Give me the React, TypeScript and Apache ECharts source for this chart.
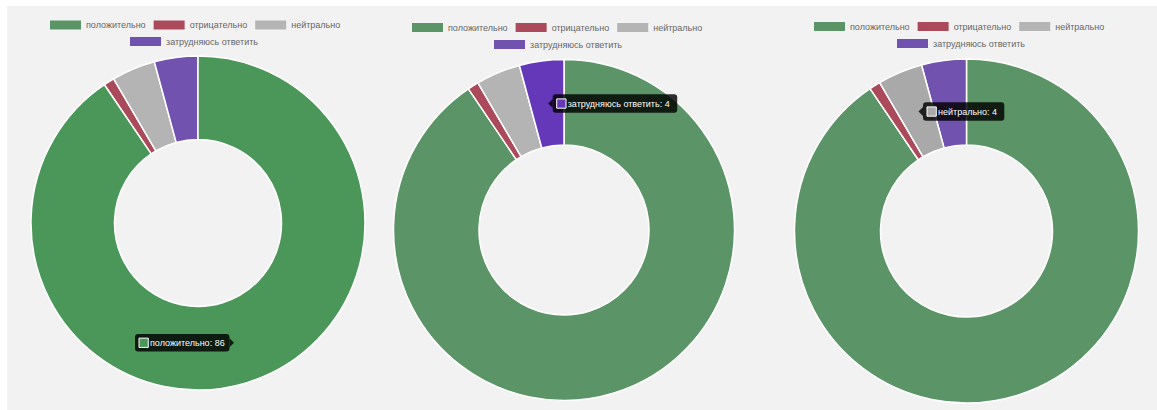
import React, { useEffect, useRef } from "react";
import * as echarts from "echarts";

const categories = ["положительно", "отрицательно", "нейтрально", "затрудняюсь ответить"];
const chart1Values = [86, 1, 4, 4];
const chart2Values = [86, 1, 4, 4];
const chart3Values = [86, 1, 4, 4];
const allValues = [chart1Values, chart2Values, chart3Values];
const activeIndex = [0, 3, 2]; // slice with tooltip in each chart

const colors = ["#5b9467", "#ab4a5b", "#b4b4b4", "#7152ae"];
const hoverColors = ["#4b975a", "#b03c50", "#a9a9a9", "#6538b9"];

// layout (container pixels)
const pies = [
  { center: [191, 217], radius: [83.5, 167] },
  { center: [557, 224], radius: [85, 170.5] },
  { center: [959.5, 225], radius: [86, 172] },
];
const legendRows = [
  { left1: 43, top1: 14.5, left2: 123, top2: 31 },
  { left1: 405, top1: 17, left2: 487, top2: 34 },
  { left1: 807, top1: 16, left2: 890, top2: 33 },
];
const tips = [
  { x: 128, y: 328, w: 94.5, h: 17.5, side: "right" },
  { x: 545.7, y: 88.3, w: 124.5, h: 18.4, side: "left" },
  { x: 916, y: 96.3, w: 81.3, h: 18.4, side: "left" },
];

const FONT = "'Liberation Sans', Arial, Helvetica, sans-serif";

export default function App() {
  const ref = useRef<HTMLDivElement>(null);
  useEffect(() => {
    if (!ref.current) return;
    const chart = echarts.init(ref.current, null, { renderer: "svg" });

    const legends: any[] = [];
    legendRows.forEach((r) => {
      const base = {
        orient: "horizontal",
        padding: 0,
        itemWidth: 31,
        itemHeight: 9,
        itemGap: 8,
        icon: "rect",
        selectedMode: false,
        itemStyle: { borderWidth: 0 },
        textStyle: { color: "#666", fontSize: 9, fontFamily: FONT, lineHeight: 9 },
      };
      legends.push({
        ...base,
        left: r.left1,
        top: r.top1,
        data: categories.slice(0, 3).map((n, i) => ({ name: n, itemStyle: { color: colors[i], borderWidth: 0 } })),
      });
      legends.push({
        ...base,
        left: r.left2,
        top: r.top2,
        data: categories.slice(3).map((n, i) => ({ name: n, itemStyle: { color: colors[i + 3], borderWidth: 0 } })),
      });
    });

    const series = pies.map((p, si) => ({
      type: "pie",
      z: 2,
      center: p.center,
      radius: p.radius,
      startAngle: 90,
      clockwise: true,
      label: { show: false },
      labelLine: { show: false },
      itemStyle: { borderColor: "#fff", borderWidth: 1.5 },
      emphasis: { scale: false, focus: "none" },
      data: allValues[si].map((v, i) => ({
        name: categories[i],
        value: v,
        itemStyle: { color: colors[i] },
        emphasis: { itemStyle: { color: hoverColors[i] } },
      })),
    }));

    const graphics: any[] = [];
    tips.forEach((t, si) => {
      const idx = activeIndex[si];
      const cy = t.y + t.h / 2;
      const caret =
        t.side === "right"
          ? [[t.x + t.w, cy - 4.5], [t.x + t.w + 4.5, cy], [t.x + t.w, cy + 4.5]]
          : [[t.x, cy - 4.5], [t.x - 4.5, cy], [t.x, cy + 4.5]];
      graphics.push(
        { type: "rect", z: 100, zlevel: 1, shape: { x: t.x, y: t.y, width: t.w, height: t.h, r: 3 }, style: { fill: "rgba(0,0,0,0.82)" } },
        { type: "polygon", z: 100, zlevel: 1, shape: { points: caret }, style: { fill: "rgba(0,0,0,0.82)" } },
        {
          type: "rect",
          z: 101,
          zlevel: 1,
          shape: { x: t.x + 4, y: cy - 4.6, width: 9.3, height: 9.3 },
          style: { fill: hoverColors[idx], stroke: "#fff", lineWidth: 1 },
        },
        {
          type: "text",
          z: 101,
          zlevel: 1,
          x: t.x + 15,
          y: cy,
          style: {
            text: `${categories[idx]}: ${allValues[si][idx]}`,
            fill: "#fff",
            font: `9px ${FONT}`,
            verticalAlign: "middle",
          },
        }
      );
    });

    chart.setOption({
      animation: false,
      backgroundColor: "#f2f2f2",
      legend: legends,
      series,
      graphic: { elements: graphics },
    });
    pies.forEach((_, si) => {
      chart.dispatchAction({ type: "highlight", seriesIndex: si, dataIndex: activeIndex[si] });
    });
    return () => chart.dispose();
  }, []);
  return (
    <div
      ref={ref}
      style={{ position: "absolute", left: 7, top: 6, width: 1150, height: 404, background: "#f2f2f2" }}
    />
  );
}
